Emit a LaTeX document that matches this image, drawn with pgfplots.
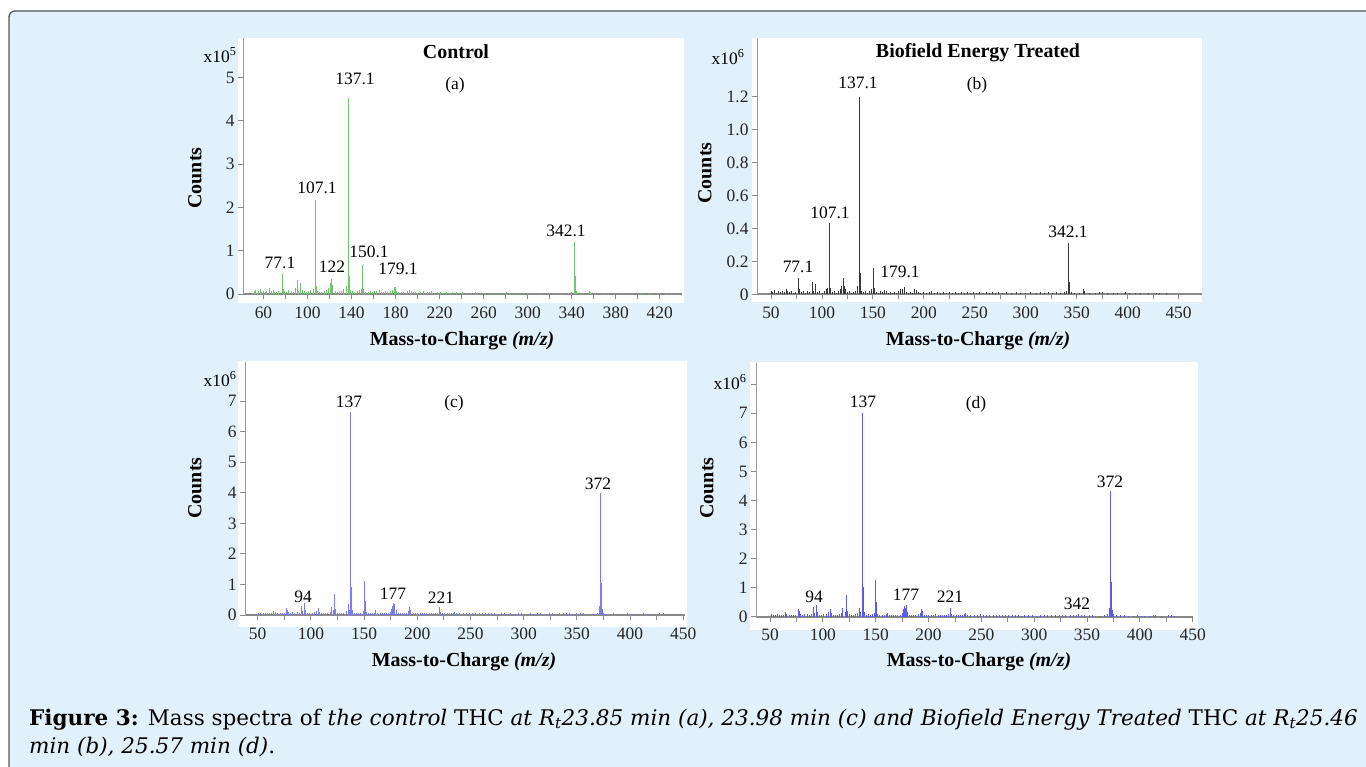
\documentclass[border=0pt]{standalone}
\usepackage{pgfplots}
\pgfplotsset{compat=1.18}
\usepackage{fontspec}
\setmainfont{Liberation Serif}
\newfontfamily\capfont{DejaVu Serif}

\definecolor{bgblue}{HTML}{E1F1FB}
\definecolor{boxline}{HTML}{555555}
\definecolor{axgray}{HTML}{8A8A8A}
\definecolor{axgraytwo}{HTML}{9A9A9A}
\definecolor{specgreen}{HTML}{74C374}
\definecolor{specblack}{HTML}{3A3A3A}
\definecolor{specblue}{HTML}{7B7BF5}
\definecolor{specbluetwo}{HTML}{5A5AEE}

\newcommand\lbl{\fontsize{17.5}{17.5}\selectfont}
\newcommand\bigbf{\fontsize{20}{20}\selectfont\bfseries}

\pgfplotsset{
  spec/.style={
    scale only axis, anchor=south west,
    axis lines=left, axis line style={-},
    x axis line style={draw=axgray, line width=1.8bp},
    y axis line style={draw=axgraytwo, line width=0.8bp},
    tick style={draw=axgray, line width=0.8bp},
    tick align=outside, major tick length=5bp, minor tick length=5bp,
    ymin=0, enlargelimits=false, clip=false,
    ticklabel style={font=\lbl, text=black!85},
    /pgf/number format/assume math mode=true,
    scaled y ticks=false,
    xticklabel style={yshift=-4bp},
  },
  stick/.style={ycomb, mark=none, line width=0.9bp},
}

\begin{document}
\begin{tikzpicture}[x=1bp,y=1bp]
\useasboundingbox (0,0) rectangle (1366,766);
\fill[white] (0,0) rectangle (1366,766);
\fill[bgblue, rounded corners=6bp] (9,-20) rectangle (1390,755);
\draw[boxline, line width=1.3bp, rounded corners=6bp] (9,-20) -- (9,755) -- (1390,755);

% white plot areas
\fill[white] (238,463) rectangle (684,728);
\fill[white] (752,464) rectangle (1202,728);
\fill[white] (238,139) rectangle (687,405);
\fill[white] (750,136) rectangle (1198,404);

% (a) control
\begin{axis}[spec, at={(243bp,472bp)}, width=439bp, height=256bp,
  xmin=41.4, xmax=440.2, ymax=5.91,
  xtick={60,100,...,420}, minor xtick={80,120,...,400},
  ytick={0,1,2,3,4,5}]
\addplot[stick, specgreen] coordinates {
(52,0.06) (53,0.1) (55,0.08) (57,0.12) (58,0.05) (60,0.07) (62,0.04) (63,0.08)
(65,0.13) (67,0.06) (69,0.09) (70,0.05) (72,0.04) (74,0.08) (77.1,0.47) (78,0.12)
(79,0.06) (81,0.05) (83,0.1) (85,0.07) (87,0.05) (89,0.14) (91,0.33) (92,0.08)
(94,0.26) (95,0.1) (97,0.06) (99,0.05) (101,0.07) (103,0.09) (105,0.12) (107.1,2.17)
(108,0.18) (109,0.06) (111,0.05) (113,0.04) (115,0.07) (117,0.09) (119,0.14) (121,0.25)
(122,0.35) (123,0.2) (125,0.08) (127,0.05) (129,0.06) (131,0.08) (133,0.12) (135,0.18)
(137.1,4.52) (138,0.42) (139,0.1) (141,0.06) (143,0.05) (145,0.07) (147,0.1) (149,0.12)
(150.1,0.67) (151,0.12) (153,0.05) (155,0.04) (157,0.06) (159,0.05) (161,0.08) (163,0.06)
(165,0.09) (167,0.05) (169,0.04) (171,0.06) (173,0.05) (175,0.08) (177,0.1) (179.1,0.15)
(180,0.17) (181,0.08) (183,0.05) (185,0.04) (187,0.05) (189,0.03) (191,0.06) (193,0.1)
(194,0.08) (196,0.04) (198,0.05) (200,0.03) (203,0.04) (205,0.06) (207,0.03) (209,0.05)
(211,0.04) (213,0.06) (215,0.03) (218,0.04) (221,0.05) (223,0.03) (226,0.04) (229,0.03)
(232,0.05) (235,0.04) (238,0.03) (241,0.04) (245,0.03) (249,0.02) (253,0.04) (257,0.03)
(262,0.02) (268,0.03) (275,0.02) (281,0.05) (283,0.03) (290,0.02) (297,0.03) (305,0.02)
(312,0.03) (318,0.02) (325,0.03) (331,0.02) (337,0.03) (340,0.05) (342.1,1.2) (343,0.42)
(344,0.08) (346,0.03) (350,0.02) (356,0.06) (357,0.05) (362,0.02) (370,0.03) (378,0.02)
(386,0.02) (395,0.03) (402,0.02) (410,0.02) (418,0.02) (426,0.03)
};
\end{axis}

% (b) treated
\begin{axis}[spec, at={(757bp,471.7bp)}, width=445bp, height=256.3bp,
  xmin=36.3, xmax=473, ymax=1.556,
  xtick={50,100,...,450}, minor xtick={75,125,...,425},
  ytick={0,0.2,0.4,0.6,0.8,1.0,1.2},
  yticklabels={0,0.2,0.4,0.6,0.8,1.0,1.2}]
\addplot[stick, specblack, line width=0.8bp] coordinates {
(50,0.02) (51,0.015) (53,0.025) (55,0.01) (57,0.02) (59,0.015) (61,0.02) (63,0.012)
(65,0.035) (66,0.02) (68,0.015) (70,0.02) (72,0.01) (74,0.015) (77.1,0.10) (78,0.03)
(80,0.015) (82,0.02) (84,0.01) (86,0.02) (88,0.015) (91,0.075) (92,0.02) (94,0.06)
(96,0.015) (98,0.02) (100,0.01) (102,0.02) (104,0.03) (105,0.04) (107.1,0.43) (108,0.04)
(110,0.015) (112,0.02) (114,0.01) (116,0.02) (118,0.035) (119,0.05) (121,0.097) (122,0.05)
(123,0.03) (125,0.015) (127,0.02) (129,0.01) (131,0.015) (133,0.02) (135,0.05) (137.1,1.2)
(138,0.13) (139,0.02) (141,0.015) (143,0.02) (145,0.01) (147,0.02) (149,0.03) (150.1,0.158)
(151,0.04) (153,0.015) (155,0.01) (157,0.02) (159,0.015) (161,0.025) (163,0.02) (165,0.01)
(167,0.015) (169,0.01) (171,0.015) (173,0.01) (175,0.02) (177,0.03) (179.1,0.03) (181,0.045)
(183,0.015) (185,0.01) (187,0.015) (189,0.01) (191,0.03) (193,0.025) (195,0.015) (197,0.01)
(200,0.015) (203,0.01) (205,0.015) (207,0.02) (210,0.01) (213,0.012) (216,0.01) (219,0.015)
(222,0.01) (225,0.012) (228,0.01) (231,0.012) (234,0.01) (237,0.012) (240,0.01) (243,0.012)
(246,0.01) (249,0.012) (252,0.01) (255,0.012) (258,0.01) (261,0.012) (264,0.01) (267,0.012)
(270,0.01) (273,0.012) (277,0.01) (281,0.012) (286,0.01) (291,0.012) (295,0.01) (300,0.008)
(305,0.012) (310,0.01) (314,0.012) (318,0.01) (322,0.012) (326,0.01) (330,0.012) (334,0.01)
(338,0.015) (340,0.02) (342.1,0.31) (343,0.077) (345,0.015) (348,0.01) (353,0.01) (357,0.035)
(358,0.02) (362,0.01) (368,0.01) (372,0.015) (375,0.012) (380,0.01) (386,0.01) (390,0.008)
(398,0.012) (402,0.01) (408,0.01) (413,0.01) (420,0.008) (428,0.01) (431,0.01) (438,0.006)
};
\end{axis}

% (c) control
\begin{axis}[spec, at={(245bp,151bp)}, width=440bp, height=253bp,
  xmin=38.06, xmax=451.7, ymax=8.28,
  xtick={50,100,...,450}, minor xtick={75,125,...,425},
  ytick={0,1,...,7}]
\addplot[stick, specblue] coordinates {
(51,0.08) (53,0.06) (55,0.07) (57,0.05) (59,0.06) (61,0.07) (63,0.05) (65,0.12)
(67,0.09) (69,0.06) (71,0.07) (73,0.05) (75,0.08) (77,0.22) (78,0.15) (79,0.1)
(81,0.07) (83,0.09) (85,0.06) (87,0.1) (89,0.08) (91,0.3) (92,0.12) (94,0.4)
(95,0.15) (97,0.08) (99,0.06) (101,0.07) (103,0.09) (105,0.12) (107,0.22) (108,0.1)
(110,0.06) (112,0.08) (114,0.05) (116,0.07) (118,0.1) (119,0.25) (121,0.15) (122,0.7)
(123,0.2) (125,0.08) (127,0.06) (129,0.07) (131,0.08) (133,0.12) (135,0.35) (136,0.15)
(137,6.65) (138,0.9) (139,0.15) (141,0.07) (143,0.08) (145,0.06) (147,0.08) (149,0.12)
(150,1.12) (151,0.45) (152,0.1) (154,0.06) (156,0.07) (158,0.05) (160,0.08) (161,0.15)
(163,0.07) (165,0.06) (167,0.05) (169,0.07) (171,0.05) (173,0.06) (175,0.1) (176,0.2)
(177,0.3) (178,0.38) (179,0.35) (180,0.15) (182,0.07) (184,0.05) (186,0.06) (188,0.05)
(190,0.07) (192,0.12) (193,0.25) (194,0.15) (196,0.06) (198,0.05) (200,0.06) (203,0.07)
(205,0.05) (207,0.08) (209,0.06) (211,0.05) (213,0.07) (215,0.05) (217,0.06) (219,0.08)
(221,0.25) (222,0.1) (224,0.05) (226,0.06) (228,0.05) (230,0.07) (232,0.05) (234,0.08)
(235,0.1) (237,0.07) (240,0.05) (243,0.06) (246,0.05) (249,0.07) (252,0.05) (255,0.06)
(258,0.05) (261,0.06) (264,0.05) (267,0.06) (270,0.05) (273,0.06) (276,0.04) (279,0.06)
(282,0.05) (285,0.04) (288,0.05) (291,0.04) (295,0.06) (298,0.05) (302,0.04) (306,0.05)
(310,0.04) (313,0.06) (316,0.05) (320,0.04) (324,0.05) (327,0.06) (330,0.04) (334,0.05)
(337,0.06) (340,0.05) (343,0.06) (346,0.04) (350,0.05) (353,0.06) (356,0.05) (360,0.03)
(365,0.04) (369,0.08) (371,0.3) (372,3.98) (373,1.05) (374,0.2) (375,0.08) (378,0.03)
(384,0.05) (386,0.04) (392,0.03) (398,0.05) (402,0.04) (407,0.03) (413,0.05) (415,0.04)
(420,0.03) (428,0.06) (431,0.05) (435,0.03)
};
\end{axis}

% (d) treated
\begin{axis}[spec, at={(756bp,149.3bp)}, width=437bp, height=253.4bp,
  xmin=36.75, xmax=450.3, ymax=8.72,
  xtick={50,100,...,450}, minor xtick={75,125,...,425},
  ytick={0,1,...,8}, yticklabels={0,1,2,3,4,5,6,7,{}}]
\addplot[stick, specbluetwo] coordinates {
(51,0.09) (53,0.07) (55,0.06) (57,0.08) (59,0.05) (61,0.07) (63,0.06) (65,0.15)
(66,0.1) (68,0.07) (70,0.06) (72,0.05) (74,0.07) (77,0.28) (78,0.18) (79,0.1)
(81,0.06) (83,0.08) (85,0.1) (87,0.07) (89,0.08) (91,0.35) (92,0.12) (94,0.4)
(95,0.15) (97,0.07) (99,0.06) (101,0.08) (103,0.1) (105,0.15) (107,0.25) (108,0.12)
(110,0.06) (112,0.07) (114,0.05) (116,0.08) (118,0.12) (119,0.3) (121,0.15) (122,0.75)
(123,0.2) (125,0.08) (127,0.06) (129,0.07) (131,0.09) (133,0.12) (135,0.3) (136,0.15)
(137,7.02) (138,1.03) (139,0.15) (141,0.07) (143,0.08) (145,0.06) (147,0.09) (149,0.12)
(150,1.25) (151,0.5) (152,0.1) (154,0.06) (156,0.07) (158,0.06) (160,0.1) (161,0.12)
(163,0.07) (165,0.06) (167,0.05) (169,0.06) (171,0.05) (173,0.07) (175,0.12) (176,0.25)
(177,0.38) (178,0.3) (179,0.4) (180,0.15) (182,0.07) (184,0.05) (186,0.06) (188,0.05)
(190,0.08) (192,0.12) (193,0.28) (194,0.2) (196,0.07) (198,0.05) (200,0.06) (203,0.07)
(205,0.05) (207,0.08) (209,0.06) (211,0.05) (213,0.07) (215,0.06) (217,0.07) (219,0.09)
(221,0.3) (222,0.1) (224,0.06) (226,0.05) (228,0.06) (230,0.07) (232,0.06) (234,0.09)
(235,0.12) (237,0.07) (240,0.05) (243,0.06) (246,0.05) (249,0.08) (252,0.06) (255,0.05)
(258,0.06) (261,0.05) (264,0.06) (267,0.05) (270,0.06) (273,0.05) (276,0.06) (279,0.05)
(282,0.06) (285,0.05) (288,0.04) (291,0.05) (295,0.06) (298,0.05) (302,0.04) (306,0.05)
(310,0.06) (313,0.05) (316,0.06) (320,0.05) (324,0.06) (327,0.07) (330,0.06) (334,0.05)
(337,0.06) (340,0.07) (342,0.08) (345,0.06) (348,0.05) (352,0.06) (355,0.05) (358,0.04)
(362,0.03) (366,0.05) (369,0.1) (371,0.3) (372,4.34) (373,1.18) (374,0.22) (375,0.1)
(378,0.05) (382,0.06) (385,0.05) (389,0.04) (394,0.03) (398,0.05) (401,0.04) (404,0.03)
(410,0.04) (413,0.06) (415,0.05) (420,0.03) (427,0.06) (430,0.05) (433,0.04)
};
\end{axis}

% scale factors
\node[font=\lbl] at (220,711) {x10\textsuperscript{5}};
\node[font=\lbl] at (728,709) {x10\textsuperscript{6}};
\node[font=\lbl] at (220,387) {x10\textsuperscript{6}};
\node[font=\lbl] at (730,384) {x10\textsuperscript{6}};

% titles and panel letters
\node[font=\bigbf] at (456,714) {Control};
\node[font=\bigbf] at (978,713) {Biofield Energy Treated};
\node[font=\lbl] at (455,681) {(a)};
\node[font=\lbl] at (977,681) {(b)};
\node[font=\lbl] at (454,363) {(c)};
\node[font=\lbl] at (976,362) {(d)};

% axis titles
\foreach \cx/\cy in {195/588, 705/593, 195/278, 707/278}
  \node[font=\bigbf, rotate=90] at (\cx,\cy) {Counts};
\foreach \mx/\my in {462/425, 978/425, 464/104, 979/104}
  \node[font=\bigbf] at (\mx,\my) {Mass-to-Charge \textit{(m/z)}};

% peak labels
\node[font=\lbl] at (355,687) {137.1};
\node[font=\lbl] at (317,578) {107.1};
\node[font=\lbl] at (280,503) {77.1};
\node[font=\lbl] at (332,499) {122};
\node[font=\lbl] at (369,514) {150.1};
\node[font=\lbl] at (398,497) {179.1};
\node[font=\lbl] at (566,535) {342.1};

\node[font=\lbl] at (858,683) {137.1};
\node[font=\lbl] at (830,553) {107.1};
\node[font=\lbl] at (798,499) {77.1};
\node[font=\lbl] at (900,494) {179.1};
\node[font=\lbl] at (1068,534) {342.1};

\node[font=\lbl] at (349,364) {137};
\node[font=\lbl] at (598,282) {372};
\node[font=\lbl] at (303,169) {94};
\node[font=\lbl] at (393,172) {177};
\node[font=\lbl] at (441,168) {221};

\node[font=\lbl] at (863,364) {137};
\node[font=\lbl] at (1110,284) {372};
\node[font=\lbl] at (814,169) {94};
\node[font=\lbl] at (906,171) {177};
\node[font=\lbl] at (950,169) {221};
\node[font=\lbl] at (1077,162) {342};

% caption
\node[anchor=base west, inner sep=0pt, font=\capfont\fontsize{21.6}{28}\selectfont] at (29,41)
  {\textbf{Figure 3:} Mass spectra of \textit{the control} THC \textit{at R\textsubscript{t}23.85 min (a), 23.98 min (c) and Biofield Energy Treated} THC \textit{at R\textsubscript{t}25.46}};
\node[anchor=base west, inner sep=0pt, font=\capfont\fontsize{21.6}{28}\selectfont] at (29,13)
  {\textit{min (b), 25.57 min (d)}.};
\end{tikzpicture}
\end{document}
